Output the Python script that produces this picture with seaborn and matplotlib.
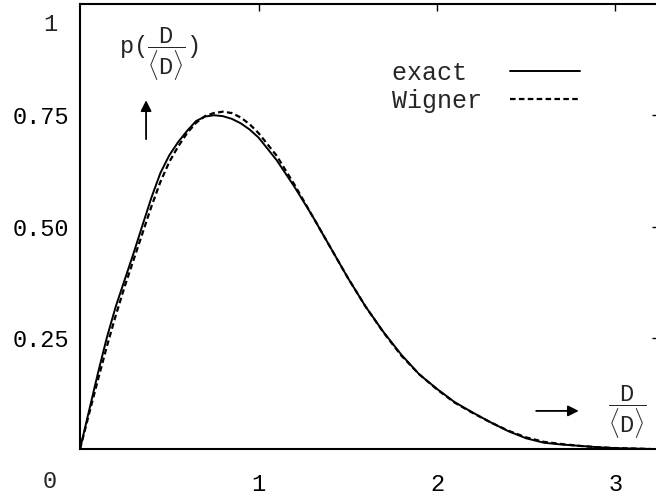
import matplotlib
matplotlib.use("Agg")
import matplotlib.pyplot as plt
import seaborn as sns
import pandas as pd

# Nearest-neighbour spacing distribution, D/<D> on the horizontal axis
spacing = [0.0, 0.05, 0.1, 0.15, 0.2, 0.25, 0.3, 0.35, 0.4, 0.45, 0.5, 0.55,
           0.6, 0.65, 0.7, 0.75, 0.8, 0.85, 0.9, 0.95, 1.0, 1.1, 1.2, 1.3,
           1.4, 1.5, 1.6, 1.7, 1.8, 1.9, 2.0, 2.1, 2.2, 2.3, 2.4, 2.5, 2.6,
           2.7, 2.8, 2.9, 3.0, 3.1, 3.2]
exact = [0.0, 0.085, 0.17, 0.25, 0.32, 0.38, 0.44, 0.503, 0.565, 0.62, 0.66,
         0.69, 0.715, 0.737, 0.747, 0.75, 0.748, 0.742, 0.732, 0.718, 0.70,
         0.65, 0.59, 0.525, 0.455, 0.385, 0.32, 0.263, 0.212, 0.168, 0.135,
         0.105, 0.082, 0.06, 0.04, 0.024, 0.014, 0.01, 0.007, 0.004, 0.002,
         0.001, 0.0]
wigner = [0.0, 0.078, 0.155, 0.23, 0.30, 0.365, 0.425, 0.485, 0.545, 0.60,
          0.645, 0.68, 0.71, 0.733, 0.748, 0.755, 0.758, 0.755, 0.745, 0.73,
          0.71, 0.66, 0.595, 0.525, 0.455, 0.385, 0.32, 0.262, 0.21, 0.168,
          0.134, 0.104, 0.081, 0.06, 0.041, 0.026, 0.016, 0.011, 0.007,
          0.004, 0.002, 0.001, 0.0]

x_ticks = [1, 2, 3]
y_ticks = [0.25, 0.50, 0.75]
y_tick_labels = ["0.25", "0.50", "0.75"]

sns.set_style("white")
plt.rcParams["font.family"] = ["Liberation Mono", "DejaVu Sans"]
plt.rcParams["mathtext.fontset"] = "custom"
plt.rcParams["mathtext.rm"] = "Liberation Mono"
plt.rcParams["mathtext.it"] = "Liberation Mono"

df = pd.DataFrame({"s": spacing, "exact": exact, "wigner": wigner})

fig = plt.figure(figsize=(6.56, 5.0), dpi=100)
ax = fig.add_axes([0.122, 0.102, 0.8826, 0.89])

sns.lineplot(data=df, x="s", y="exact", ax=ax, color="black", lw=1.4,
             label="exact ")
sns.lineplot(data=df, x="s", y="wigner", ax=ax, color="black", lw=1.6,
             linestyle=(0, (2.5, 1.5)), label="Wigner")

ax.set_xlim(0, 3.244)
ax.set_ylim(0, 1)
ax.set_xlabel("")
ax.set_ylabel("")

ax.set_xticks(x_ticks)
ax.set_xticklabels([str(t) for t in x_ticks])
ax.set_yticks(y_ticks)
ax.set_yticklabels(y_tick_labels)
ax.tick_params(axis="both", direction="in", length=5, width=1.0,
               top=True, right=True, labelsize=17, colors="black")
ax.tick_params(axis="x", pad=17)
ax.tick_params(axis="y", pad=8)

for sp in ax.spines.values():
    sp.set_linewidth(1.5)
    sp.set_color("black")

# corner labels
ax.text(-0.168, 0.955, "1", ha="center", va="center", fontsize=17,
        clip_on=False)
ax.text(-0.168, -0.072, "0", ha="center", va="center", fontsize=17,
        clip_on=False)

# axis annotations with arrows
ax.text(0.44, 0.887, r"p($\dfrac{\mathrm{D}}{\langle\mathrm{D}\rangle}$)",
        ha="center", va="center", fontsize=17)
ax.annotate("", xy=(0.37, 0.79), xytext=(0.37, 0.69),
            arrowprops=dict(arrowstyle="-|>", color="black", lw=1.3,
                            mutation_scale=16))
ax.annotate("", xy=(2.81, 0.0856), xytext=(2.54, 0.0856),
            arrowprops=dict(arrowstyle="-|>", color="black", lw=1.3,
                            mutation_scale=16))
ax.text(3.064, 0.083, r"$\dfrac{\mathrm{D}}{\langle\mathrm{D}\rangle}$",
        ha="center", va="center", fontsize=17)

ax.legend(loc="upper left", bbox_to_anchor=(0.539, 0.872), markerfirst=False,
          frameon=False, fontsize=18, handlelength=2.8, handletextpad=1.1,
          labelspacing=0.15, borderpad=0, borderaxespad=0)

fig.savefig("out.png", dpi=100, facecolor="white")
